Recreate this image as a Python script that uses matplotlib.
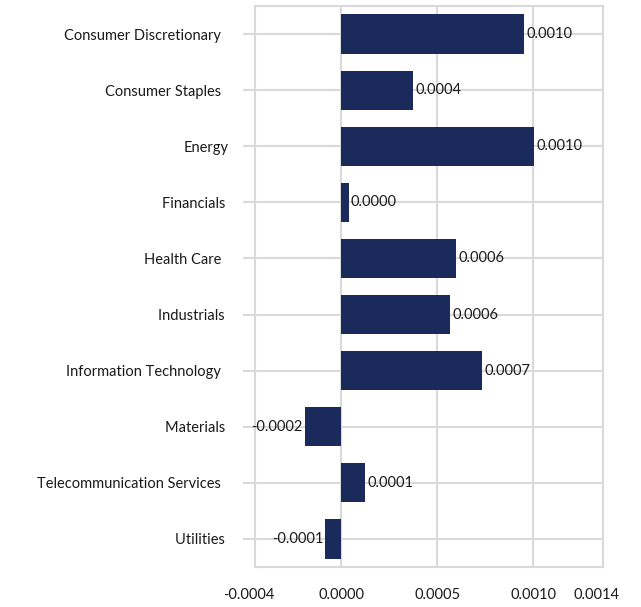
import matplotlib

matplotlib.use("Agg")
import matplotlib.pyplot as plt
from matplotlib.ticker import FixedLocator
from matplotlib.transforms import ScaledTranslation

# sector contributions (top to bottom)
sectors = [
    "Consumer Discretionary  ",
    "Consumer Staples  ",
    "Energy",
    "Financials ",
    "Health Care  ",
    "Industrials ",
    "Information Technology  ",
    "Materials ",
    "Telecommunication Services  ",
    "Utilities ",
]
values = [0.000953, 0.000375, 0.001005, 0.00004, 0.000599,
          0.000568, 0.000734, -0.000188, 0.000125, -0.000083]

x_min, x_max = -0.000448, 0.001365
x_ticks = [x_min, 0.0, 0.0005, 0.0010, x_max]
x_labels = ["-0.0004", "0.0000", "0.0005", "0.0010", "0.0014"]

BAR = "#1a2a5a"
GRID = "#d9d9d9"
TXT = "#1a1a1a"

plt.rcParams["font.family"] = ["Lato", "DejaVu Sans"]

fig = plt.figure(figsize=(6.41, 6.07), dpi=100)
ax = fig.add_axes([0.398, 0.066, 0.543, 0.924])

pos = list(range(len(sectors)))
ax.barh(pos, values, height=0.7, color=BAR, zorder=3)

for y, v in zip(pos, values):
    if v >= 0:
        ax.annotate(f"{v:.4f}", (v, y), xytext=(1.5, 0), textcoords="offset points",
                    ha="left", va="center", fontsize=10.5, color=TXT, zorder=4)
    else:
        ax.annotate(f"{v:.4f}", (v, y), xytext=(-1.5, 0), textcoords="offset points",
                    ha="right", va="center", fontsize=10.5, color=TXT, zorder=4)

ax.set_ylim(len(sectors) - 0.5, -0.5)
ax.set_xlim(x_min, x_max)

ax.set_yticks(pos)
ax.set_yticklabels(sectors, fontsize=10.5, color=TXT)
ax.set_xticks(x_ticks)
ax.set_xticklabels(x_labels, fontsize=10.5, color=TXT)
ax.xaxis.set_minor_locator(FixedLocator([0.0, 0.0005, 0.0010]))

ax.tick_params(axis="x", which="major", length=0, pad=15)
ax.tick_params(axis="x", which="minor", length=9, width=1.5, color=GRID)
ax.tick_params(axis="y", length=9, width=1.5, color=GRID, pad=10)

# nudge the end labels slightly to the left
xt = ax.get_xticklabels()
for lbl in (xt[0], xt[-1]):
    lbl.set_transform(lbl.get_transform() + ScaledTranslation(-0.065, 0, fig.dpi_scale_trans))

ax.grid(True, which="major", color=GRID, lw=1.5, zorder=0)
for s in ax.spines.values():
    s.set_color(GRID)
    s.set_linewidth(1.5)

fig.savefig("out.png", dpi=100)
